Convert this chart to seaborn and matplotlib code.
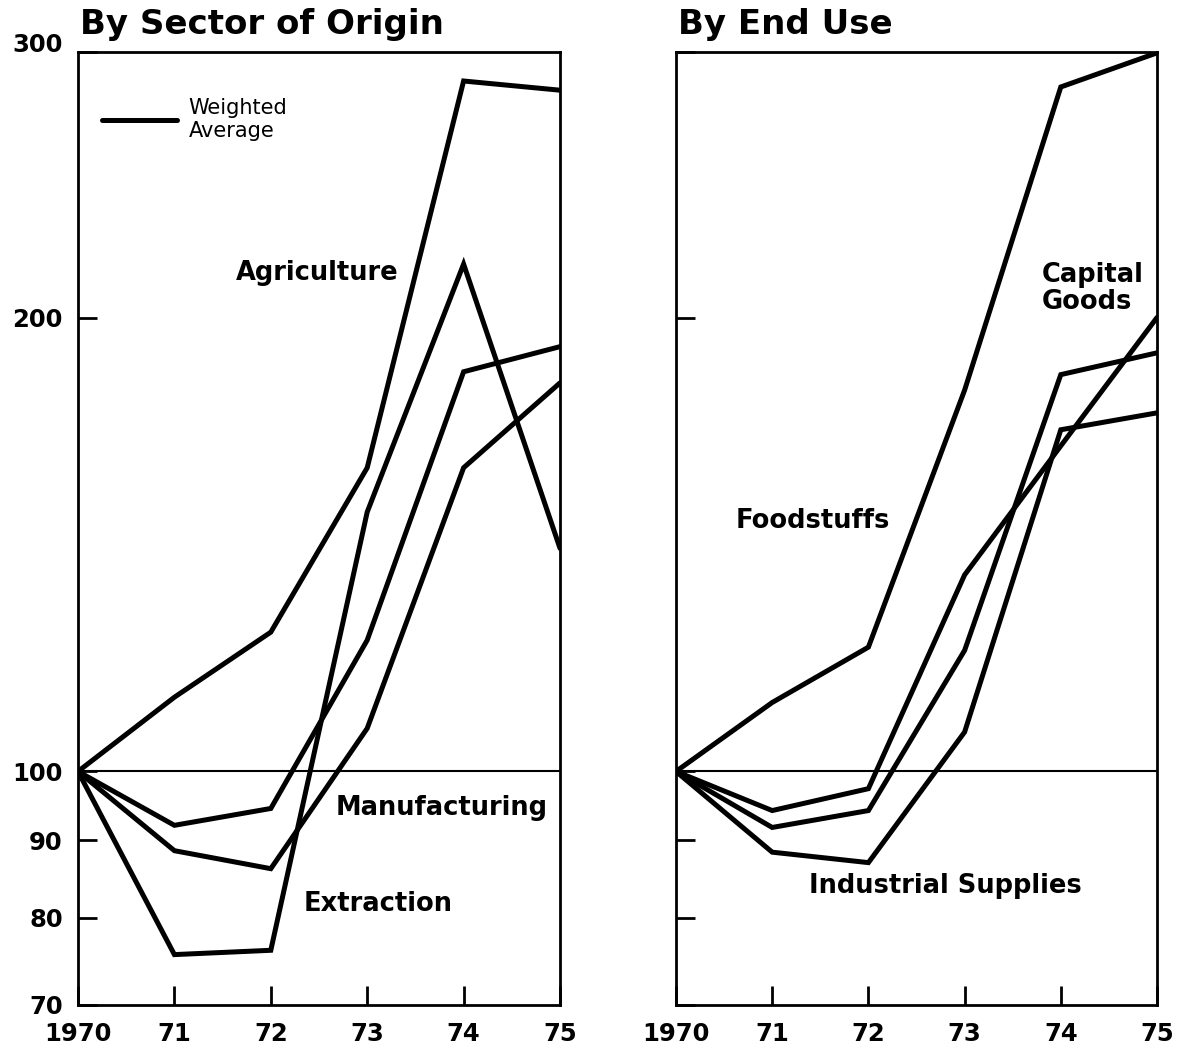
import matplotlib
matplotlib.use("Agg")
import matplotlib.pyplot as plt
import matplotlib.ticker as mticker
import matplotlib.transforms as mtransforms
from matplotlib.lines import Line2D
import pandas as pd
import seaborn as sns

# -----------------------------------------------------------------------------
# Data (index, 1970 = 100)
# -----------------------------------------------------------------------------
years = [1970, 1971, 1972, 1973, 1974, 1975]
year_labels = ["1970", "71", "72", "73", "74", "75"]
y_ticks = [70, 80, 90, 100, 200, 300]
y_tick_labels = ["70", "80", "90", "100", "200", "300"]

# By sector of origin
agriculture = [100, 112.0, 123.7, 159.0, 287.0, 283.0]
extraction = [100, 75.6, 76.1, 148.6, 217.0, 140.6]
manufacturing = [100, 88.6, 86.2, 106.8, 159.0, 181.0]
sector_average = [100, 92.1, 94.5, 122.2, 184.1, 191.3]

# By end use
foodstuffs = [100, 111.1, 120.9, 179.0, 284.4, 299.6]
capital_goods = [100, 94.2, 97.4, 135.0, 164.4, 200.0]
industrial_supplies = [100, 88.4, 87.0, 106.2, 168.5, 172.9]
end_use_average = [100, 91.8, 94.2, 120.3, 183.3, 189.5]


def long_form(series):
    rows = []
    for name, vals in series.items():
        for yr, v in zip(years, vals):
            rows.append({"year": yr, "series": name, "value": v})
    return pd.DataFrame(rows)


sector_df = long_form({
    "Agriculture": agriculture,
    "Extraction": extraction,
    "Manufacturing": manufacturing,
    "Weighted Average": sector_average,
})
end_use_df = long_form({
    "Foodstuffs": foodstuffs,
    "Capital Goods": capital_goods,
    "Industrial Supplies": industrial_supplies,
    "Weighted Average": end_use_average,
})

# -----------------------------------------------------------------------------
# Style
# -----------------------------------------------------------------------------
sns.set_style("ticks")
plt.rcParams["font.family"] = ["DejaVu Sans"]
plt.rcParams["text.color"] = "black"

INK = "black"
LINE_W = 3.6
SPINE_W = 2.0

W, H = 1177, 1050
fig = plt.figure(figsize=(W / 100, H / 100), dpi=100)
fig.patch.set_facecolor("white")

ax_left = fig.add_axes([78 / W, 45 / H, 482 / W, 953 / H])
ax_right = fig.add_axes([676 / W, 45 / H, 481 / W, 953 / H])


def style_axes(ax, show_ylabels):
    ax.set_yscale("log")
    ax.set_xlim(1970, 1975)
    ax.set_ylim(70, 300)
    ax.set_xticks(years)
    ax.set_xticklabels(year_labels)
    ax.set_yticks(y_ticks)
    ax.yaxis.set_minor_locator(mticker.NullLocator())
    if show_ylabels:
        ax.set_yticklabels(y_tick_labels)
    else:
        ax.set_yticklabels([])
    ax.set_xlabel("")
    ax.set_ylabel("")
    ax.axhline(100, color=INK, lw=1.5, zorder=1)
    ax.tick_params(axis="both", direction="in", length=14, width=2.0,
                   color=INK, labelcolor=INK, labelsize=17.5, pad=11)
    ax.tick_params(axis="x", pad=12)
    for lab in ax.get_xticklabels() + ax.get_yticklabels():
        lab.set_fontweight("bold")
    for sp in ax.spines.values():
        sp.set_visible(True)
        sp.set_linewidth(SPINE_W)
        sp.set_color(INK)
    ax.set_facecolor("white")


for ax, data in [(ax_left, sector_df), (ax_right, end_use_df)]:
    names = data["series"].unique()
    sns.lineplot(data=data, x="year", y="value", hue="series",
                 palette={n: INK for n in names}, legend=False,
                 estimator=None, sort=False, lw=LINE_W,
                 solid_joinstyle="miter", ax=ax, zorder=3)

style_axes(ax_left, True)
style_axes(ax_right, False)

# the "300" label sits a little above the top of the frame
for lab in ax_left.get_yticklabels():
    if lab.get_text() == "300":
        lab.set_transform(lab.get_transform() + mtransforms.ScaledTranslation(
            0, 10 / 100, fig.dpi_scale_trans))

# legend
handle = Line2D([0], [0], color=INK, lw=LINE_W)
leg = ax_left.legend(handles=[handle], labels=["Weighted\nAverage"],
                     loc="upper left", bbox_to_anchor=(0.05, 0.952),
                     frameon=False, fontsize=15, handlelength=3.6,
                     handletextpad=0.55, borderpad=0, borderaxespad=0,
                     labelspacing=0)
for t in leg.get_texts():
    t.set_color(INK)

# panel titles
title_kw = dict(fontsize=24.5, fontweight="bold", color=INK, va="baseline")
fig.text(80 / W, 1 - 34 / H, "By Sector of Origin", **title_kw)
fig.text(678 / W, 1 - 34 / H, "By End Use", **title_kw)

# series labels
label_kw = dict(fontsize=18.5, fontweight="bold", color=INK,
                ha="center", va="center")
ax_left.text(1972.48, 214, "Agriculture", **label_kw)
ax_left.text(1973.77, 94.5, "Manufacturing", **label_kw)
ax_left.text(1973.11, 81.7, "Extraction", **label_kw)
ax_right.text(1971.42, 146.6, "Foodstuffs", **label_kw)
ax_right.text(1972.80, 84.0, "Industrial Supplies", **label_kw)
ax_right.text(1973.80, 209, "Capital\nGoods", fontsize=18.5,
              fontweight="bold", color=INK, ha="left", va="center",
              linespacing=1.05)

fig.savefig("out.png", dpi=100, facecolor="white")
